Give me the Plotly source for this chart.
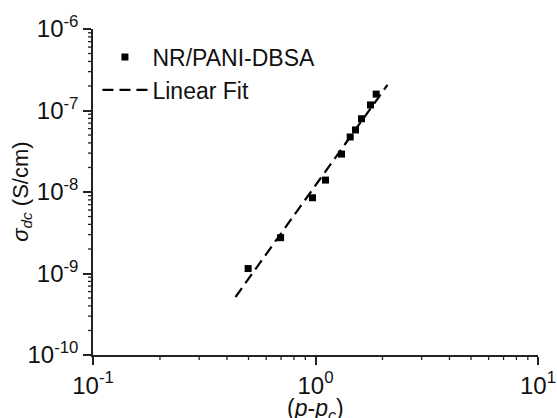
import plotly.graph_objects as go

# data
x_data = [0.498, 0.697, 0.969, 1.109, 1.309, 1.432, 1.513, 1.610, 1.767, 1.874]
y_data = [1.15e-9, 2.75e-9, 8.5e-9, 1.40e-8, 2.92e-8, 4.73e-8, 5.77e-8, 7.93e-8, 1.17e-7, 1.59e-7]
fit_x = [0.437, 2.106]
fit_y = [5.15e-10, 2.06e-7]

x_tickvals = [0.1, 1, 10]
x_ticktext = ["10<sup>-1</sup>", "10<sup>0</sup>", "10<sup>1</sup>"]
y_tickvals = [1e-10, 1e-9, 1e-8, 1e-7, 1e-6]
y_ticktext = ["10<sup>-10</sup>", "10<sup>-9</sup>", "10<sup>-8</sup>", "10<sup>-7</sup>", "10<sup>-6</sup>"]
x_minor = [m * 10.0 ** e for e in (-1, 0) for m in range(2, 10)]
y_minor = [m * 10.0 ** e for e in (-10, -9, -8, -7) for m in range(2, 10)]

FONT = "Arial, Liberation Sans, sans-serif"
INK = "#222"

fig = go.Figure()
fig.add_trace(go.Scatter(x=x_data, y=y_data, mode="markers", name="NR/PANI-DBSA",
                         marker=dict(symbol="square", size=7, color="black")))
fig.add_trace(go.Scatter(x=fit_x, y=fit_y, mode="lines", name="Linear Fit",
                         line=dict(color="black", width=2.2, dash="11px,6px")))

axis_common = dict(showgrid=False, zeroline=False, showline=True, linecolor=INK,
                   linewidth=1.5, ticks="outside", tickcolor=INK, tickwidth=1.5,
                   automargin=False,
                   tickfont=dict(size=24, color="#111", family=FONT))

# minor ticks drawn as short shapes placed through the axis scales
shapes = []
for v in x_minor:
    shapes.append(dict(type="line", xref="x", yref="paper", x0=v, x1=v,
                       ysizemode="pixel", yanchor=0, y0=0, y1=-5, layer="above",
                       line=dict(color=INK, width=1.3)))
for v in y_minor:
    shapes.append(dict(type="line", yref="y", xref="paper", y0=v, y1=v,
                       xsizemode="pixel", xanchor=0, x0=0, x1=-5, layer="above",
                       line=dict(color=INK, width=1.3)))

fig.update_layout(
    xaxis=dict(type="log", range=[-1, 1], tickmode="array", tickvals=x_tickvals,
               ticktext=x_ticktext, ticklen=8, **axis_common),
    yaxis=dict(type="log", range=[-10, -6], tickmode="array", tickvals=y_tickvals,
               ticktext=y_ticktext, ticklen=8, **axis_common),
    shapes=shapes,
    width=557, height=418,
    margin=dict(l=93, r=19, t=29, b=63),
    paper_bgcolor="white", plot_bgcolor="white",
    font=dict(family=FONT, color="#111"),
    showlegend=True,
    legend=dict(x=0.01, y=0.98, xanchor="left", yanchor="top",
                font=dict(size=23, family=FONT, color="#111"),
                bgcolor="rgba(0,0,0,0)", itemwidth=45, tracegroupgap=0),
    annotations=[
        dict(text="(<i>p</i>-<i>p</i><sub><i>c</i></sub>)", xref="paper", yref="paper",
             x=0.5, y=-0.118, xanchor="center", yanchor="top", showarrow=False,
             font=dict(size=23, color="#111", family=FONT)),
        dict(text="<i>σ</i><sub><i>dc</i></sub> (S/cm)", xref="paper", yref="paper",
             x=-0.16, y=0.5, xanchor="center", yanchor="middle", showarrow=False,
             textangle=-90, font=dict(size=22, color="#111", family=FONT)),
    ],
)

fig.write_html("out.html")
